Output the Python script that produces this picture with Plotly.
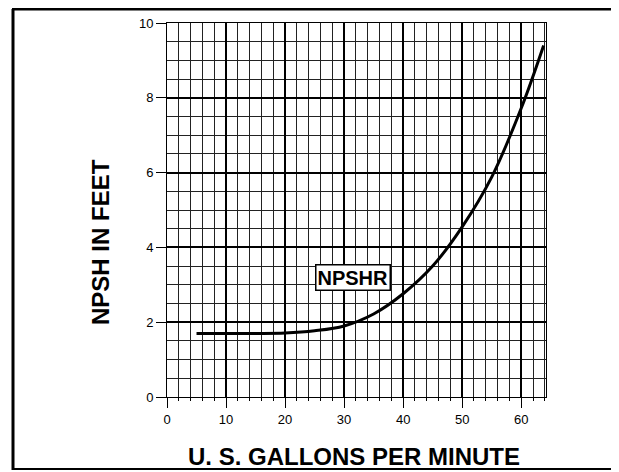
import plotly.graph_objects as go

# Data
gpm = [5, 10, 15, 20, 25, 30, 35, 40, 45, 50, 55, 60, 63.8]
npshr = [1.7, 1.7, 1.7, 1.71, 1.77, 1.9, 2.22, 2.76, 3.5, 4.55, 5.88, 7.72, 9.4]
x_ticks = [0, 10, 20, 30, 40, 50, 60]
y_ticks = [0, 2, 4, 6, 8, 10]
curve_label = "NPSHR"
x_title = "U. S. GALLONS PER MINUTE"
y_title = "NPSH IN FEET"

# the page body has an 8px margin: figure coords = window coords - 8
OFF = 8
W, H = 611, 464
L, T = 167 - OFF, 23 - OFF
PW, PH = 379, 374
R, B = W - L - PW, H - T - PH


def px_x(p):
    """window pixel x -> paper fraction"""
    return (p - OFF - L) / PW


def px_y(p):
    """window pixel y -> paper fraction"""
    return (T + PH - (p - OFF)) / PH


FONT = "Liberation Sans, Arial, sans-serif"

fig = go.Figure()
fig.add_trace(go.Scatter(
    x=gpm, y=npshr, mode="lines",
    line=dict(color="black", width=3, shape="spline", smoothing=1.0),
    showlegend=False, hoverinfo="skip",
))

axis_common = dict(
    showgrid=True, gridcolor="black", gridwidth=2,
    zeroline=False, showline=True, linecolor="black", linewidth=1, mirror=True,
    ticks="outside", tickcolor="black", tickwidth=1,
    tickfont=dict(family=FONT, size=13, color="black"),
)

fig.update_xaxes(
    range=[0, 64.2], tickvals=x_ticks, ticklen=10,
    minor=dict(dtick=2, tick0=0, showgrid=True, gridcolor="#222", gridwidth=1,
               ticks="outside", ticklen=3, tickcolor="black"),
    **axis_common,
)
fig.update_yaxes(
    range=[0, 10], tickvals=y_ticks, ticklen=10,
    minor=dict(dtick=0.5, tick0=0, showgrid=True, gridcolor="#222", gridwidth=1),
    **axis_common,
)

fig.add_annotation(
    x=31.5, y=3.2, xref="x", yref="y", text="<b>%s</b>" % curve_label,
    showarrow=False, font=dict(family=FONT, size=20, color="black"),
    bgcolor="white", bordercolor="black", borderwidth=1.5, borderpad=1,
)

fig.add_annotation(
    x=px_x(354), y=px_y(456), xref="paper", yref="paper",
    text="<b>%s</b>" % x_title, showarrow=False,
    font=dict(family=FONT, size=24, color="black"),
    xanchor="center", yanchor="middle",
)
fig.add_annotation(
    x=px_x(100), y=px_y(242), xref="paper", yref="paper",
    text="<b>%s</b>" % y_title, showarrow=False, textangle=-90,
    font=dict(family=FONT, size=24, color="black"),
    xanchor="center", yanchor="middle",
)

# outer frame of the scanned page (window pixel coordinates)
frame = [
    (12, 9, 619, 9, 3),
    (13, 9, 13, 470, 3),
    (12, 469, 619, 469, 2),
]
for x0, y0, x1, y1, w in frame:
    fig.add_shape(type="line", xref="paper", yref="paper",
                  x0=px_x(x0), y0=px_y(y0), x1=px_x(x1), y1=px_y(y1),
                  line=dict(color="black", width=w))

fig.update_layout(
    width=W, height=H,
    margin=dict(l=L, r=R, t=T, b=B, autoexpand=False),
    paper_bgcolor="white", plot_bgcolor="white",
    font=dict(family=FONT, color="black"),
)

fig.write_html("out.html")
